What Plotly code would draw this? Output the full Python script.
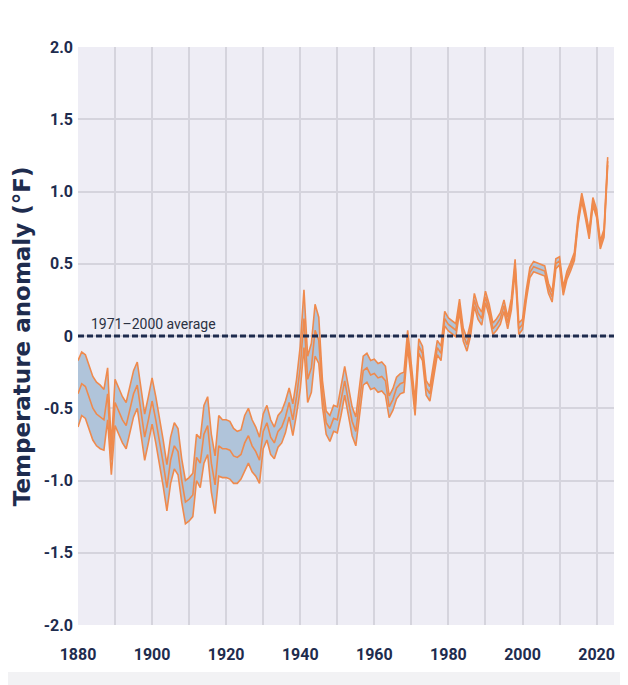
import plotly.graph_objects as go

# ---------------- data ----------------
years = list(range(1880, 2024))

anomaly = [
    -0.40, -0.33, -0.35, -0.43, -0.50, -0.54, -0.56, -0.58, -0.40, -0.86,   # 1880s
    -0.46, -0.52, -0.58, -0.62, -0.52, -0.40, -0.34, -0.52, -0.70, -0.58,   # 1890s
    -0.45, -0.58, -0.72, -0.88, -1.05, -0.86, -0.76, -0.80, -1.00, -1.15,   # 1900s
    -1.13, -1.10, -0.84, -0.88, -0.68, -0.62, -0.88, -1.03, -0.76, -0.78,   # 1910s
    -0.78, -0.79, -0.83, -0.84, -0.82, -0.74, -0.69, -0.76, -0.80, -0.86,   # 1920s
    -0.66, -0.60, -0.70, -0.74, -0.66, -0.63, -0.56, -0.46, -0.58, -0.42,   # 1930s
    -0.22,  0.12, -0.30, -0.22,  0.04, -0.03, -0.40, -0.60, -0.64, -0.57,   # 1940s
    -0.58, -0.45, -0.31, -0.45, -0.59, -0.66, -0.46, -0.24, -0.22, -0.27,   # 1950s
    -0.26, -0.29, -0.28, -0.31, -0.49, -0.44, -0.36, -0.33, -0.32, -0.02,   # 1960s
    -0.25, -0.50, -0.07, -0.12, -0.36, -0.40, -0.24, -0.08, -0.12,  0.12,   # 1970s
     0.08,  0.06,  0.04,  0.21,  0.01, -0.06,  0.05,  0.25,  0.16,  0.12,   # 1980s
     0.27,  0.18,  0.05,  0.08,  0.12,  0.21,  0.09,  0.22,  0.49,  0.05,   # 1990s
     0.08,  0.28,  0.44,  0.48,  0.47,  0.46,  0.45,  0.33,  0.27,  0.50,   # 2000s
     0.52,  0.31,  0.42,  0.48,  0.55,  0.80,  0.96,  0.84,  0.70,  0.93,   # 2010s
     0.85,  0.63,  0.71,  1.21,                                             # 2020s
]

# half-width of the shaded uncertainty band
band_half = [
    0.23, 0.22, 0.22, 0.22, 0.22, 0.22, 0.22, 0.21, 0.18, 0.10,
    0.16, 0.16, 0.16, 0.16, 0.16, 0.16, 0.16, 0.16, 0.16, 0.16,
    0.16, 0.16, 0.16, 0.16, 0.16, 0.16, 0.16, 0.16, 0.15, 0.15,
    0.15, 0.15, 0.16, 0.17, 0.20, 0.20, 0.20, 0.20, 0.21, 0.20,
    0.20, 0.20, 0.19, 0.18, 0.17, 0.19, 0.19, 0.18, 0.17, 0.16,
    0.12, 0.12, 0.12, 0.11, 0.11, 0.11, 0.11, 0.10, 0.11, 0.12,
    0.15, 0.20, 0.16, 0.17, 0.18, 0.16, 0.09, 0.08, 0.09, 0.09,
    0.09, 0.10, 0.10, 0.10, 0.10, 0.10, 0.10, 0.10, 0.10, 0.10,
    0.10, 0.10, 0.10, 0.10, 0.075, 0.075, 0.075, 0.07, 0.07, 0.06,
    0.05, 0.05, 0.05, 0.05, 0.05, 0.05, 0.05, 0.05, 0.05, 0.05,
    0.045, 0.045, 0.045, 0.045, 0.045, 0.045, 0.045, 0.045, 0.045, 0.045,
    0.04, 0.04, 0.04, 0.04, 0.04, 0.04, 0.04, 0.04, 0.04, 0.04,
    0.035, 0.035, 0.035, 0.035, 0.035, 0.035, 0.035, 0.035, 0.035, 0.035,
    0.028, 0.028, 0.028, 0.028, 0.028, 0.028, 0.028, 0.028, 0.028, 0.028,
    0.028, 0.028, 0.028, 0.028,
]

x_tick_vals = [1880, 1890, 1900, 1910, 1920, 1930, 1940, 1950, 1960, 1970,
               1980, 1990, 2000, 2010, 2020]
x_tick_text = ["1880", "", "1900", "", "1920", "", "1940", "", "1960", "",
               "1980", "", "2000", "", "2020"]
y_tick_vals = [-2.0, -1.5, -1.0, -0.5, 0.0, 0.5, 1.0, 1.5, 2.0]
y_tick_text = ["-2.0", "-1.5", "-1.0", "-0.5", "0", "0.5", "1.0", "1.5", "2.0"]

baseline_label = "1971\u20132000 average"
y_title = "Temperature anomaly (\u00b0F)"

# ---------------- styling ----------------
ORANGE = "#EF8A4D"
FILL = "rgba(176,196,218,1)"
NAVY = "#1E2C4E"
GRID = "#D5D4DD"
PLOT_BG = "#EEEDF5"
FONT = "Roboto, sans-serif"

lower = [a - h for a, h in zip(anomaly, band_half)]
upper = [a + h for a, h in zip(anomaly, band_half)]

fig = go.Figure()
fig.add_trace(go.Scatter(x=years, y=lower, mode="lines",
                         line=dict(color=ORANGE, width=1.6), hoverinfo="skip",
                         showlegend=False))
fig.add_trace(go.Scatter(x=years, y=upper, mode="lines", fill="tonexty",
                         fillcolor=FILL, line=dict(color=ORANGE, width=1.6),
                         hoverinfo="skip", showlegend=False))
fig.add_trace(go.Scatter(x=years, y=anomaly, mode="lines",
                         line=dict(color=ORANGE, width=1.6), showlegend=False))

# baseline (1971-2000 average)
fig.add_shape(type="line", xref="paper", x0=0, x1=1, yref="y", y0=0, y1=0,
              line=dict(color=NAVY, width=3, dash="6px,3px"), layer="above")
fig.add_annotation(x=1883, y=0, xref="x", yref="y", text=baseline_label,
                   showarrow=False, xanchor="left", yanchor="bottom", yshift=2,
                   font=dict(family=FONT, size=14, color="#2A3142"))

# y-axis title
fig.add_annotation(x=-0.104, y=0.5, xref="paper", yref="paper", text=y_title,
                   textangle=-90, showarrow=False, xanchor="center", yanchor="middle",
                   font=dict(family="DejaVu Sans", size=23, color=NAVY, weight="bold"))

# light strip at the bottom of the picture
fig.add_shape(type="rect", xref="paper", yref="paper", x0=-0.2, x1=1.1,
              y0=-0.13, y1=-0.0813, fillcolor="#F2F2F4", line=dict(width=0),
              layer="below")

fig.update_layout(
    width=628, height=685,
    margin=dict(l=70, r=22, t=39, b=68),
    paper_bgcolor="white",
    plot_bgcolor=PLOT_BG,
    showlegend=False,
    xaxis=dict(range=[1880, 2024.7], tickvals=x_tick_vals, ticktext=x_tick_text,
               showgrid=True, gridcolor=GRID, gridwidth=2, zeroline=False,
               showline=False, ticks="", ticklabelstandoff=18,
               tickfont=dict(family=FONT, size=16, color=NAVY, weight="bold")),
    yaxis=dict(range=[-2, 2], tickvals=y_tick_vals, ticktext=y_tick_text,
               showgrid=True, gridcolor=GRID, gridwidth=2, zeroline=False,
               showline=False, ticks="", ticklabelstandoff=4,
               tickfont=dict(family=FONT, size=16, color=NAVY, weight="bold")),
)

fig.write_html("out.html")
